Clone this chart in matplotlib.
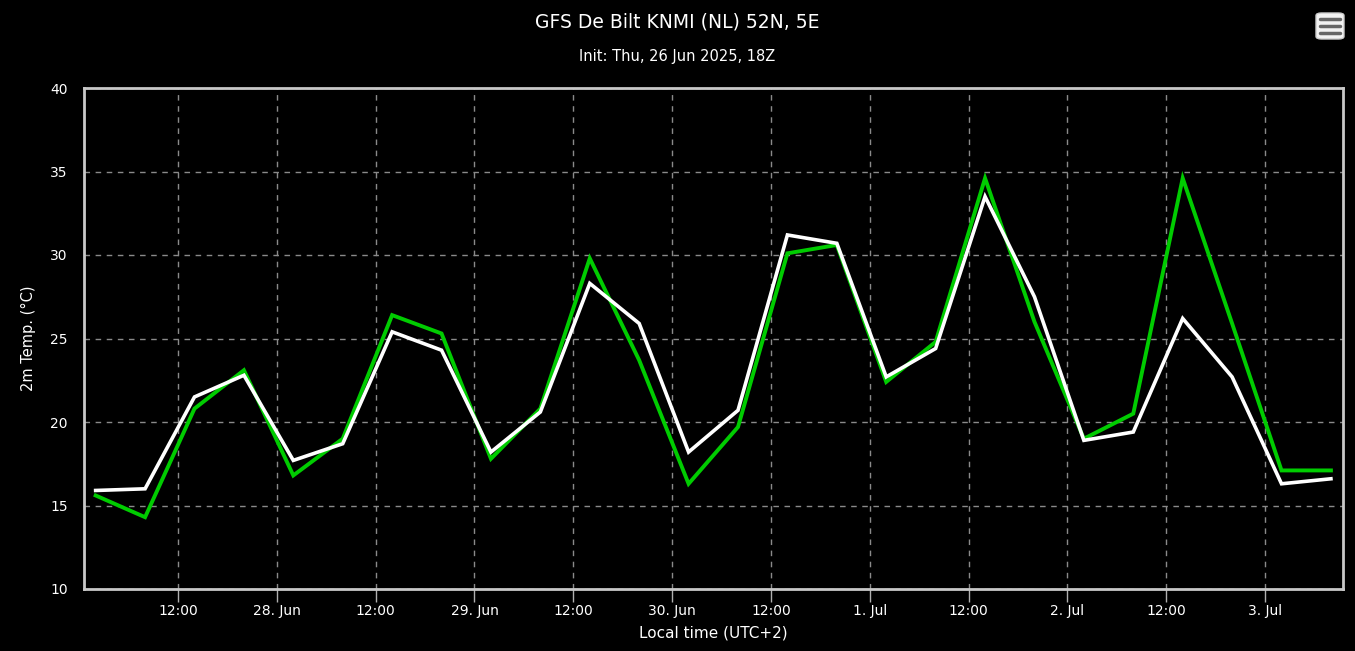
import matplotlib
matplotlib.use("Agg")
import matplotlib.pyplot as plt
import matplotlib.dates as mdates
from matplotlib.patches import FancyBboxPatch
from datetime import datetime, timedelta

# ---- data ----
start_time = datetime(2025, 6, 27, 2, 0)
step_hours = 6
green_temp = [15.6, 14.3, 20.8, 23.1, 16.8, 19.0, 26.4, 25.3, 17.8, 20.8,
              29.8, 23.7, 16.3, 19.7, 30.1, 30.6, 22.4, 24.8, 34.6, 26.0,
              19.0, 20.5, 34.6, 25.9, 17.1, 17.1]
white_temp = [15.9, 16.0, 21.5, 22.8, 17.7, 18.7, 25.4, 24.3, 18.2, 20.6,
              28.3, 25.9, 18.2, 20.7, 31.2, 30.7, 22.7, 24.4, 33.5, 27.5,
              18.9, 19.4, 26.2, 22.7, 16.3, 16.6]
times = [start_time + timedelta(hours=step_hours * i) for i in range(len(green_temp))]
tick_times = [datetime(2025, 6, 27, 12) + timedelta(hours=12 * i) for i in range(12)]
tick_labels = ["12:00", "28. Jun", "12:00", "29. Jun", "12:00", "30. Jun",
               "12:00", "1. Jul", "12:00", "2. Jul", "12:00", "3. Jul"]
y_ticks = [10, 15, 20, 25, 30, 35, 40]
title = "GFS De Bilt KNMI (NL) 52N, 5E"
subtitle = "Init: Thu, 26 Jun 2025, 18Z"
x_label = "Local time (UTC+2)"
y_label = "2m Temp. (°C)"

fig = plt.figure(figsize=(13.55, 6.51), dpi=100, facecolor="black")
ax = fig.add_axes([84 / 1355, 1 - 589 / 651, (1343 - 84) / 1355, (589 - 88) / 651])
ax.set_facecolor("black")

ax.plot(times, green_temp, color="#00cc00", lw=2.8, solid_joinstyle="miter", zorder=3)
ax.plot(times, white_temp, color="white", lw=2.6, solid_joinstyle="miter", zorder=4)

ax.set_xlim(times[0] - timedelta(minutes=85), times[-1] + timedelta(minutes=88))
ax.set_ylim(10, 40)
ax.set_yticks(y_ticks)
ax.set_yticklabels([str(v) for v in y_ticks], color="white", fontsize=10)
ax.set_xticks(tick_times)
ax.set_xticklabels(tick_labels, color="white", fontsize=10)

ax.grid(True, color="#8a8a8a", linestyle=(0, (4, 4)), linewidth=1.0)
ax.tick_params(axis="x", colors="#b0b0b0", length=9, width=1, pad=2, labelcolor="white")
ax.tick_params(axis="y", length=0, pad=18, labelcolor="white")
for lab in ax.get_yticklabels():
    lab.set_horizontalalignment("center")
for s in ax.spines.values():
    s.set_color("#c8c8c8")
    s.set_linewidth(2)

ax.set_xlabel(x_label, color="white", fontsize=11, labelpad=5)
ax.set_ylabel(y_label, color="white", fontsize=10.5, labelpad=10)

fig.text(0.5, 1 - 22 / 651, title, color="white", fontsize=13.5,
         ha="center", va="center")
fig.text(0.5, 1 - 57 / 651, subtitle, color="white", fontsize=10.5,
         ha="center", va="center")

# menu button
btn = FancyBboxPatch((1316 / 1355, 1 - 39 / 651), 28 / 1355, 26 / 651,
                     boxstyle="round,pad=0,rounding_size=0.004",
                     transform=fig.transFigure, facecolor="#f2f2f2",
                     edgecolor="#cccccc", lw=1)
fig.patches.append(btn)
for yy in (19, 26, 33):
    fig.add_artist(plt.Line2D([1320 / 1355, 1340 / 1355], [1 - yy / 651] * 2,
                              transform=fig.transFigure, color="#666666", lw=2.5,
                              solid_capstyle="round"))

fig.savefig("out.png", dpi=100, facecolor="black")
